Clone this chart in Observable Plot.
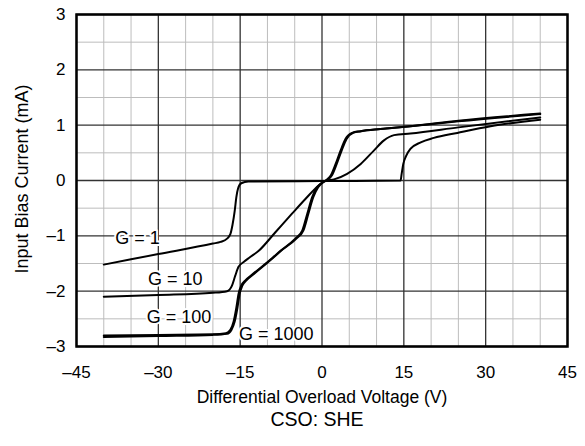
<!DOCTYPE html>
<html><head><meta charset="utf-8">
<script src="https://cdn.jsdelivr.net/npm/d3@7"></script>
<script src="https://cdn.jsdelivr.net/npm/@observablehq/plot@0.6"></script>
<style>body{margin:0;background:#fff;}</style>
</head><body><div id="chart"></div>
<script>
const xMajor = [-45, -30, -15, 0, 15, 30, 45];
const xMinor = [-40, -35, -25, -20, -10, -5, 5, 10, 20, 25, 35, 40];
const yMajor = [-3, -2, -1, 0, 1, 2, 3];
const yMinor = [-2.5, -1.5, -0.5, 0.5, 1.5, 2.5];

const g1X = [-40, -30, -20, -18.6, -17.4, -16.8, -16.4, -16.0, -15.7, -15.4, -14.8, -13.5, 0, 14.4, 14.6, 14.9, 15.4, 16.2, 18.1, 20.5, 24.8, 30.9, 40];
const g1Y = [-1.52, -1.33, -1.14, -1.11, -1.05, -0.97, -0.80, -0.55, -0.30, -0.15, -0.05, -0.02, -0.01, 0, 0.12, 0.30, 0.44, 0.57, 0.69, 0.77, 0.86, 0.98, 1.10];

const g10X = [-40, -30, -20, -17.4, -16.5, -15.9, -15.3, -14.3, -13.4, -11.6, -8.5, -5.5, -3.0, -0.6, 0.8, 2.2, 4.6, 7.1, 9.5, 11.3, 13.2, 16.2, 25, 40];
const g10Y = [-2.10, -2.07, -2.03, -2.00, -1.90, -1.72, -1.56, -1.47, -1.40, -1.27, -0.93, -0.60, -0.33, -0.09, 0.0, 0.02, 0.12, 0.30, 0.54, 0.72, 0.82, 0.85, 0.96, 1.14];

const g100X = [-40, -30, -20, -17.6, -16.8, -16.2, -15.7, -15.3, -14.8, -14.0, -12.8, -9.1, -7.6, -4.9, -3.6, -2.7, -1.8, -0.9, 0, 0.8, 1.6, 2.5, 3.4, 4.3, 5.5, 7.0, 10.7, 16.2, 25, 40];
const g100Y = [-2.80, -2.79, -2.78, -2.76, -2.70, -2.55, -2.30, -2.05, -1.90, -1.80, -1.70, -1.40, -1.27, -1.05, -0.90, -0.60, -0.30, -0.12, -0.04, 0.01, 0.09, 0.30, 0.54, 0.75, 0.86, 0.89, 0.93, 0.98, 1.07, 1.20];

const g1000X = [-40, -30, -20, -17.4, -16.6, -16.0, -15.5, -15.1, -14.6, -13.8, -12.6, -9.0, -7.5, -4.7, -3.4, -2.5, -1.6, -0.7, 0.2, 1.0, 1.8, 2.7, 3.6, 4.5, 5.7, 7.2, 10.7, 16.2, 25, 40];
const g1000Y = [-2.83, -2.81, -2.79, -2.77, -2.70, -2.55, -2.30, -2.05, -1.90, -1.80, -1.70, -1.40, -1.27, -1.05, -0.90, -0.60, -0.30, -0.12, -0.03, 0.01, 0.09, 0.30, 0.54, 0.75, 0.86, 0.89, 0.93, 0.98, 1.08, 1.21];

const labelText = ["G = 1", "G = 10", "G = 100", "G = 1000"];
const labelX = [-33.8, -26.9, -26.2, -8.4];
const labelY = [-1.05, -1.78, -2.47, -2.77];

const xTitle = "Differential Overload Voltage (V)";
const yTitle = "Input Bias Current (mA)";
const caption = "CSO: SHE";

const toPts = (xs, ys) => xs.map((x, i) => ({x, y: ys[i]}));
const series = [toPts(g1X, g1Y), toPts(g10X, g10Y), toPts(g100X, g100Y), toPts(g1000X, g1000Y)];
const labels = labelText.map((t, i) => ({t, x: labelX[i], y: labelY[i]}));
const fmt = d => d < 0 ? "\u2013" + (-d) : String(d);

const marks = [
  Plot.ruleX(xMinor, {stroke: "#bdbdbd", strokeWidth: 1}),
  Plot.ruleY(yMinor, {stroke: "#bdbdbd", strokeWidth: 1}),
  Plot.ruleX(xMajor, {stroke: "#333", strokeWidth: 1.3}),
  Plot.ruleY(yMajor, {stroke: "#333", strokeWidth: 1.3}),
  ...series.map(s => Plot.line(s, {x: "x", y: "y", stroke: "black", strokeWidth: 2, curve: "monotone-x"})),
  Plot.text(labels, {x: "x", y: "y", text: "t", fill: "black", stroke: "white", strokeWidth: 4, fontSize: 18}),
  Plot.frame({stroke: "black", strokeWidth: 2.5}),
  Plot.text([xTitle], {frameAnchor: "bottom", dy: 56, fontSize: 17.5, fill: "black"}),
  Plot.text([caption], {frameAnchor: "bottom", dx: -5, dy: 79, fontSize: 19.5, fill: "black"}),
  Plot.text([yTitle], {frameAnchor: "left", textAnchor: "middle", dx: -54, dy: -1.5, rotate: -90, fontSize: 18, fill: "black"})
];

const chart = Plot.plot({
  width: 585, height: 446,
  marginLeft: 76, marginRight: 18, marginTop: 14, marginBottom: 100,
  style: {fontFamily: "'Liberation Sans', Arial, sans-serif", fontSize: "17px", color: "black", background: "white"},
  x: {domain: [-45, 45], ticks: xMajor, tickFormat: fmt, tickSize: 0, tickPadding: 19, label: null},
  y: {domain: [-3, 3], ticks: yMajor, tickFormat: fmt, tickSize: 0, tickPadding: 11, label: null},
  marks
});
document.getElementById("chart").appendChild(chart);
</script>
</body></html>
